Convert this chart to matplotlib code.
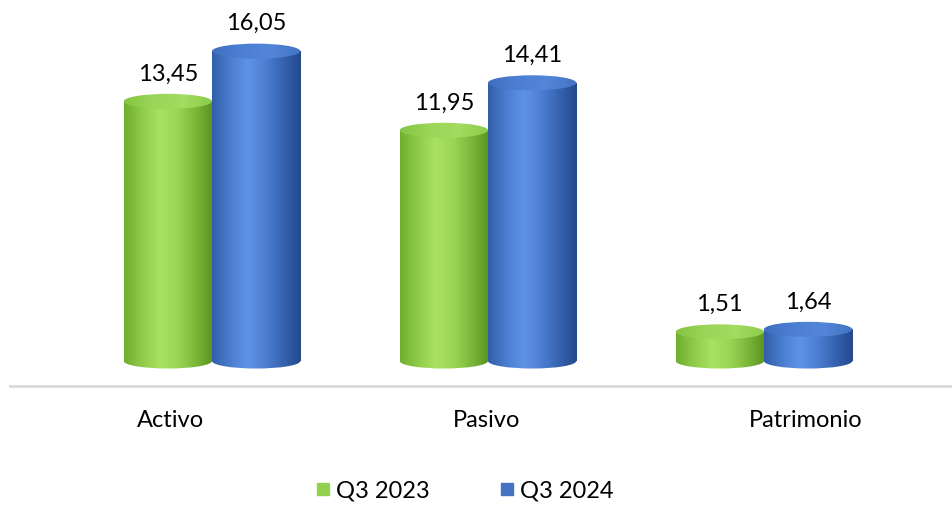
import matplotlib.pyplot as plt
import numpy as np
from matplotlib.patches import Ellipse
from matplotlib.lines import Line2D
from matplotlib.colors import LinearSegmentedColormap

categories = ['Activo', 'Pasivo', 'Patrimonio']
series = ['Q3 2023', 'Q3 2024']
q3_2023 = [13.45, 11.95, 1.51]
q3_2024 = [16.05, 14.41, 1.64]

plt.rcParams['font.family'] = ['Lato', 'DejaVu Sans']

# colores: leyenda y degradados de los cilindros
legend_colors = ['#92d050', '#4472c4']
body_grad = [
    ['#6fae2e', '#8fcb48', '#a9e262', '#9cd655', '#7cb83a', '#5a9420'],
    ['#325ea8', '#4a7dcf', '#5f93e6', '#4c7fd2', '#3663b0', '#24488c'],
]
top_grad = [
    ['#86c443', '#9ad657', '#a3dc5f', '#8ccb49'],
    ['#3f6fc0', '#4c7fd3', '#5386d8', '#4273c4'],
]

fig = plt.figure(figsize=(9.53, 5.05), dpi=100)
ax = fig.add_axes([10 / 953, 119 / 505, 943 / 953, 386 / 505])

x = np.arange(len(categories))
w = 0.32
ell_h = 0.78
grad_x = np.linspace(0, 1, 256).reshape(1, -1)

for k, vals in enumerate([q3_2023, q3_2024]):
    pos = x + (k - 0.5) * w
    cmap_body = LinearSegmentedColormap.from_list('b%d' % k, body_grad[k])
    cmap_top = LinearSegmentedColormap.from_list('t%d' % k, top_grad[k])
    bars = ax.bar(pos, vals, width=w, color='none', edgecolor='none', zorder=2 + k * 3)
    for rect, v in zip(bars, vals):
        x0 = rect.get_x()
        x1 = x0 + rect.get_width()
        xc = x0 + rect.get_width() / 2
        z = 2 + k * 3
        # fondo del cilindro (media elipse inferior)
        bottom = Ellipse((xc, 0), rect.get_width(), ell_h, facecolor='none',
                         edgecolor='none', transform=ax.transData)
        ax.add_patch(bottom)
        im = ax.imshow(grad_x, cmap=cmap_body, extent=[x0, x1, -ell_h, v],
                       aspect='auto', zorder=z, interpolation='bicubic')
        im.set_clip_path(bottom)
        im2 = ax.imshow(grad_x, cmap=cmap_body, extent=[x0, x1, -ell_h, v],
                        aspect='auto', zorder=z, interpolation='bicubic')
        im2.set_clip_path(rect)
        # tapa superior
        top = Ellipse((xc, v), rect.get_width(), ell_h, facecolor='none',
                      edgecolor='none')
        ax.add_patch(top)
        im3 = ax.imshow(grad_x, cmap=cmap_top, extent=[x0, x1, v - ell_h, v + ell_h],
                        aspect='auto', zorder=z + 1, interpolation='bicubic')
        im3.set_clip_path(top)
        ax.annotate(f'{v:.2f}'.replace('.', ','), (xc, v), xytext=(0, 15),
                    textcoords='offset points', ha='center', va='baseline',
                    fontsize=17, color='#000000', zorder=10)

ax.set_xlim(-0.732, 2.685)
ax.set_ylim(-1.295, 18.70)

for s in ['top', 'right', 'left']:
    ax.spines[s].set_visible(False)
ax.spines['bottom'].set_color('#d9d9d9')
ax.spines['bottom'].set_linewidth(2)
ax.set_yticks([])
ax.set_xticks([-0.149, 0.996, 2.152])
ax.set_xticklabels(categories, fontsize=17)
ax.tick_params(axis='x', length=0, pad=17)

handles = [Line2D([], [], marker='s', linestyle='none', markersize=9,
                  markerfacecolor=c, markeredgecolor=c) for c in legend_colors]
fig.legend(handles, series, loc='center', bbox_to_anchor=(464 / 953, 1 - 491 / 505),
           ncol=2, frameon=False, fontsize=17, handletextpad=0.2,
           columnspacing=2.9, handlelength=0.7)

fig.savefig('out.png', dpi=100)
